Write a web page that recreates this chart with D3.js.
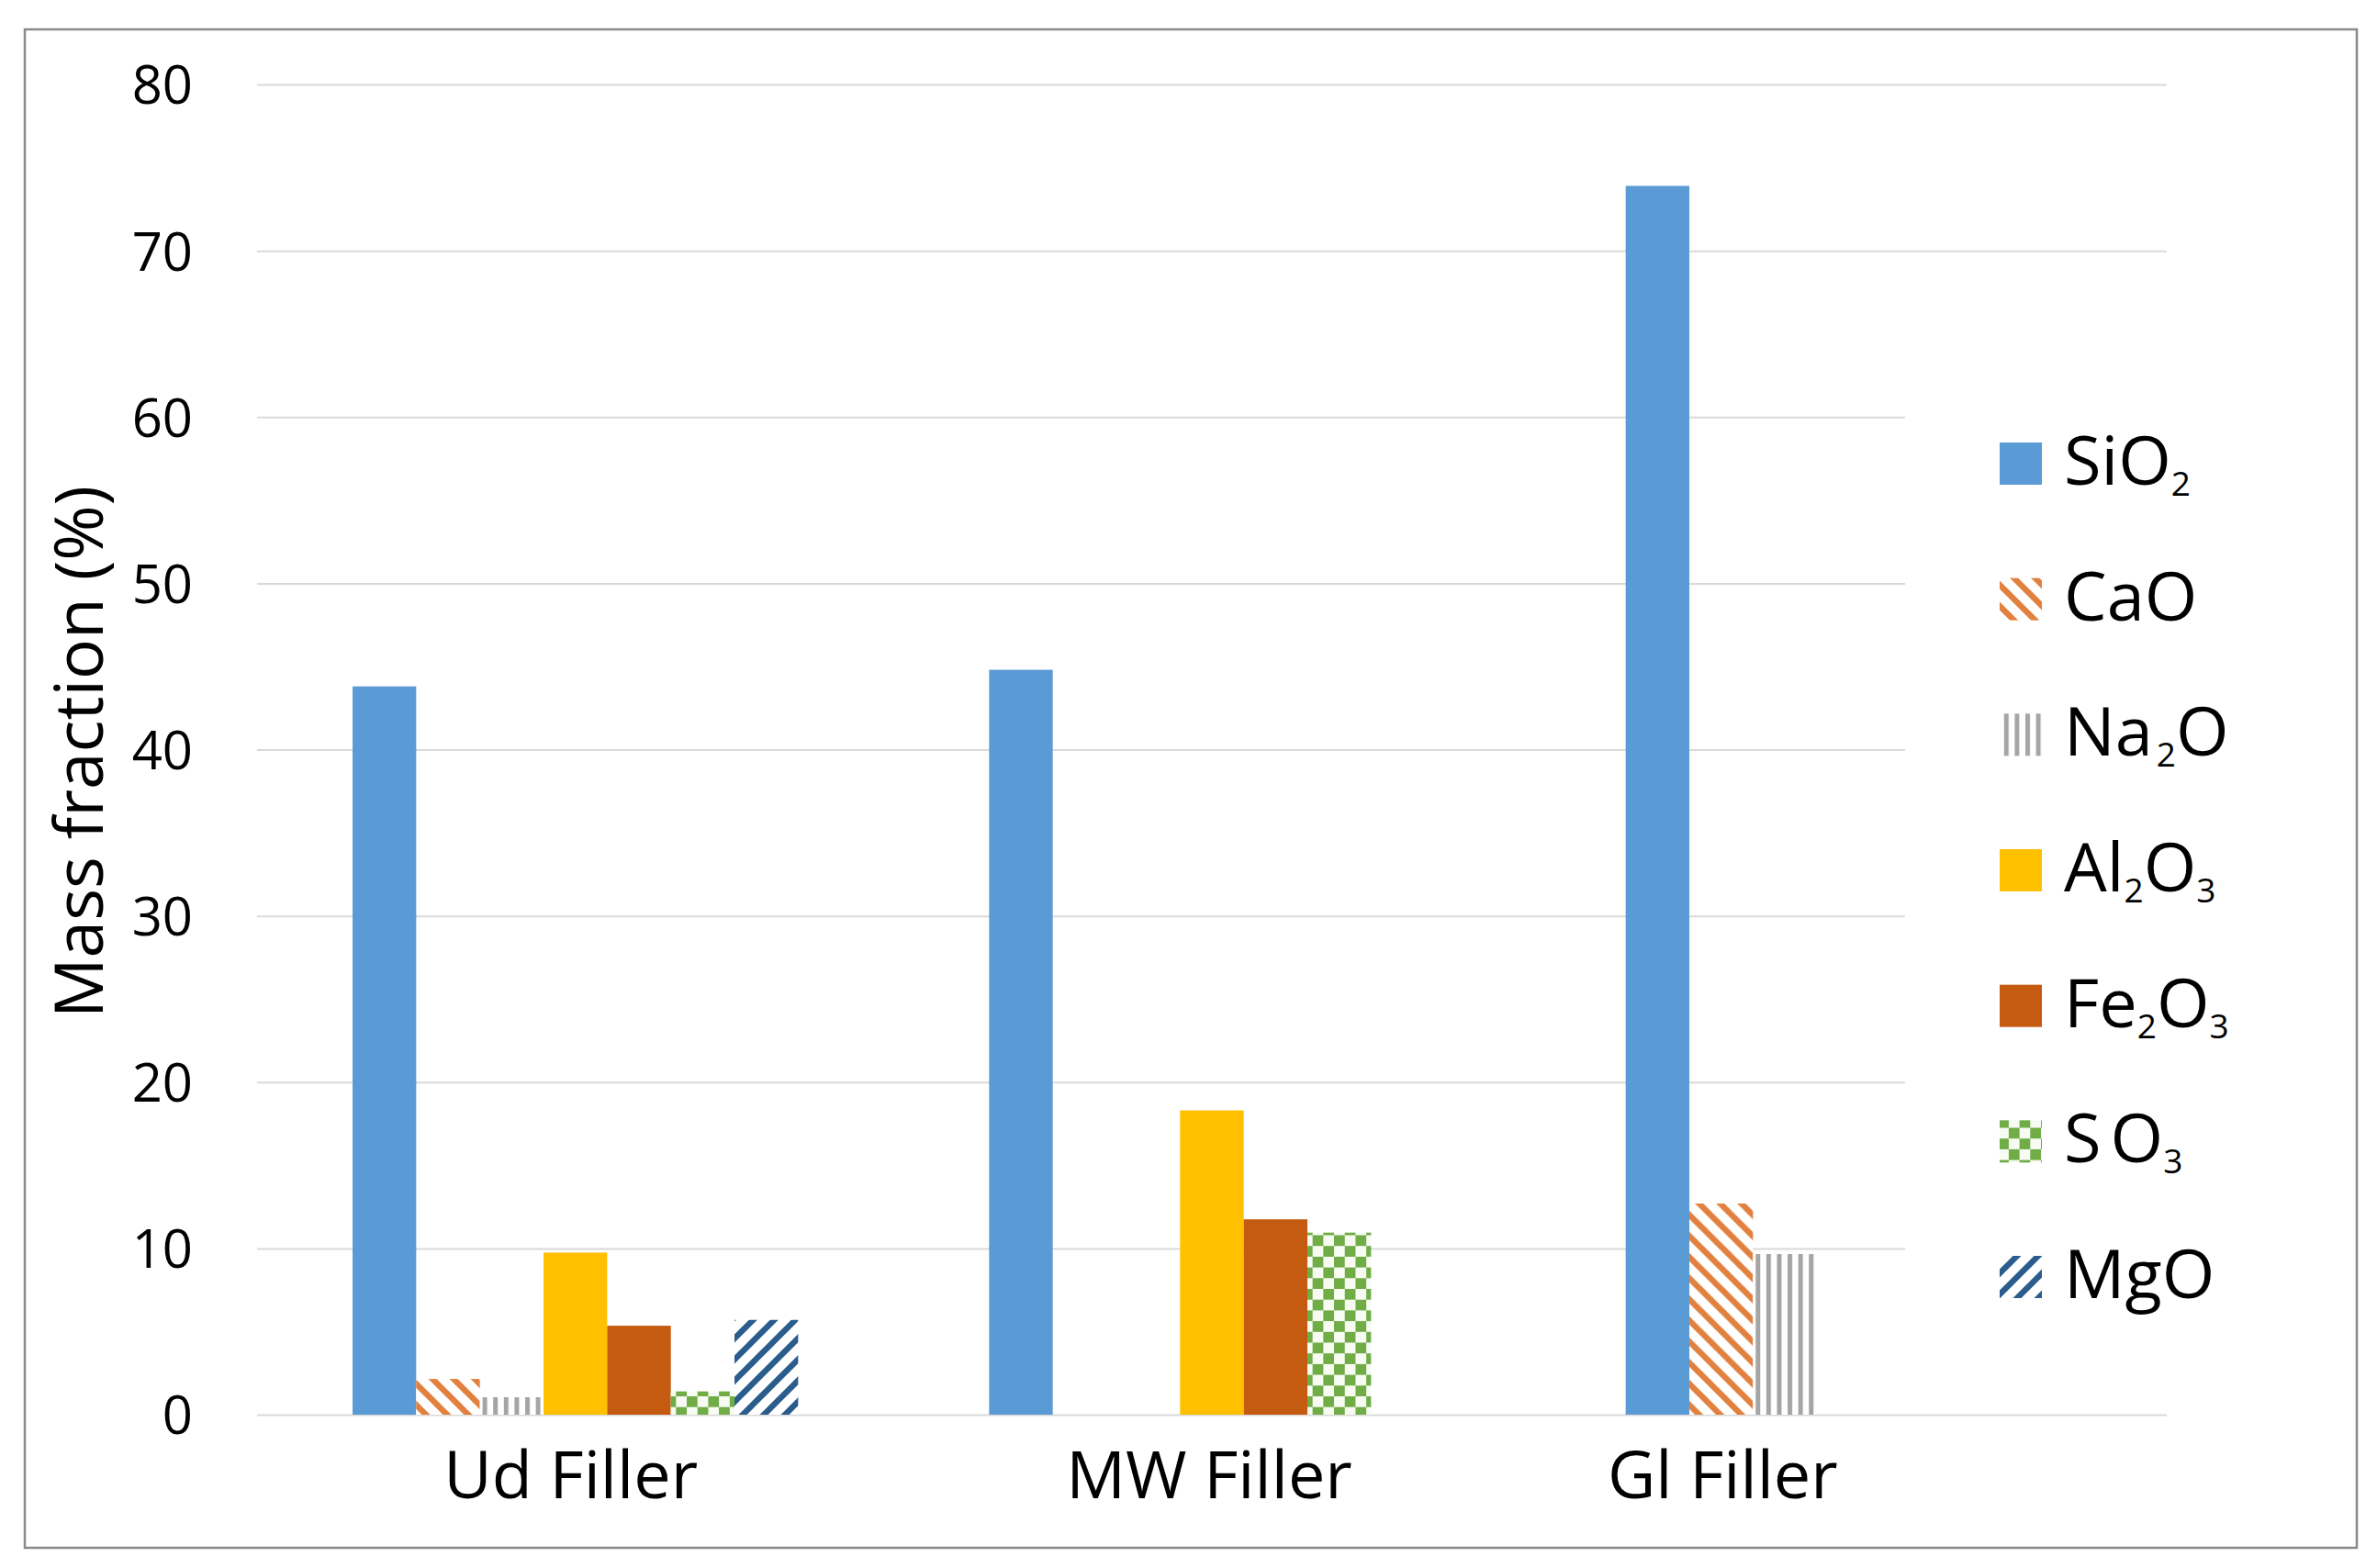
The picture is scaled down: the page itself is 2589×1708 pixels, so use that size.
<!DOCTYPE html>
<html>
<head>
<meta charset="utf-8">
<script src="https://cdn.jsdelivr.net/npm/d3@7"></script>
<style>
  html, body { margin: 0; padding: 0; background: #fff; }
  svg { display: block; }
  text { font-family: "Open Sans", "Noto Sans", sans-serif; fill: #000; }
</style>
</head>
<body>
<svg id="chart" width="2589" height="1708"></svg>
<script>
// ---- data ----
const categories = ["Ud Filler", "MW Filler", "Gl Filler"];
const series = ["SiO2", "CaO", "Na2O", "Al2O3", "Fe2O3", "SO3", "MgO"];
const SiO2  = [43.8, 44.8, 73.9];
const CaO   = [2.15, 0, 12.7];
const Na2O  = [1.05, 0, 9.66];
const Al2O3 = [9.75, 18.3, 0];
const Fe2O3 = [5.35, 11.75, 0];
const SO3   = [1.4, 10.95, 0];
const MgO   = [5.7, 0, 0];
const yTicks = [0, 10, 20, 30, 40, 50, 60, 70, 80];
const yTitle = "Mass fraction (%)";

const values = { SiO2, CaO, Na2O, Al2O3, Fe2O3, SO3, MgO };

// ---- layout ----
const svg = d3.select("#chart");
const W = 2589, H = 1708;
const plot = { left: 280, right: 2360, top: 92, bottom: 1541 };

svg.append("rect").attr("x", 0).attr("y", 0).attr("width", W).attr("height", H).attr("fill", "#fff");

// patterns
const defs = svg.append("defs");
const P = 23;
const pCa = defs.append("pattern").attr("id", "pCaO").attr("patternUnits", "userSpaceOnUse")
  .attr("width", P).attr("height", P);
pCa.append("rect").attr("width", P).attr("height", P).attr("fill", "#fff");
pCa.append("path")
  .attr("d", `M0,0 L${P},${P} M${-P/2},${P/2} L${P/2},${3*P/2} M${P/2},${-P/2} L${3*P/2},${P/2}`)
  .attr("stroke", "#E2803F").attr("stroke-width", 6.5).attr("fill", "none");
const pMg = defs.append("pattern").attr("id", "pMgO").attr("patternUnits", "userSpaceOnUse")
  .attr("width", P).attr("height", P);
pMg.append("rect").attr("width", P).attr("height", P).attr("fill", "#fff");
pMg.append("path")
  .attr("d", `M0,${P} L${P},0 M${-P/2},${P/2} L${P/2},${-P/2} M${P/2},${3*P/2} L${3*P/2},${P/2}`)
  .attr("stroke", "#2A5C8C").attr("stroke-width", 6.5).attr("fill", "none");
const PV = 11.6;
const pNa = defs.append("pattern").attr("id", "pNa2O").attr("patternUnits", "userSpaceOnUse")
  .attr("width", PV).attr("height", PV).attr("x", 2);
pNa.append("rect").attr("width", PV).attr("height", PV).attr("fill", "#fff");
pNa.append("rect").attr("x", 0).attr("width", 5).attr("height", PV).attr("fill", "#A5A5A5");
const PC = 23.4;
const pS = defs.append("pattern").attr("id", "pSO3").attr("patternUnits", "userSpaceOnUse")
  .attr("width", PC).attr("height", PC);
pS.append("rect").attr("width", PC).attr("height", PC).attr("fill", "#F7FBF2");
pS.append("rect").attr("x", 0).attr("y", 0).attr("width", PC/2).attr("height", PC/2).attr("fill", "#70AD47");
pS.append("rect").attr("x", PC/2).attr("y", PC/2).attr("width", PC/2).attr("height", PC/2).attr("fill", "#70AD47");

const fills = {
  SiO2: "#5B9BD5",
  CaO: "url(#pCaO)",
  Na2O: "url(#pNa2O)",
  Al2O3: "#FFC000",
  Fe2O3: "#C55A11",
  SO3: "url(#pSO3)",
  MgO: "url(#pMgO)"
};

// scales
const y = d3.scaleLinear().domain([0, 80]).range([plot.bottom, plot.top]);
const x0 = d3.scaleBand().domain(categories).range([plot.left, plot.right]).paddingInner(0).paddingOuter(0);
const x1 = d3.scaleBand().domain(series).range([0, x0.bandwidth()]).paddingInner(0).paddingOuter(1.5);

// gridlines
const grid = svg.append("g").attr("transform", `translate(${plot.left},0)`)
  .call(d3.axisLeft(y).tickValues(yTicks).tickSize(-(plot.right - plot.left)).tickFormat(""));
grid.select(".domain").remove();
grid.selectAll(".tick line").attr("stroke", "#D9D9D9").attr("stroke-width", 2);

// y tick labels
const yAx = svg.append("g").attr("transform", `translate(210,0)`)
  .call(d3.axisLeft(y).tickValues(yTicks).tickSize(0).tickPadding(0));
yAx.select(".domain").remove();
yAx.selectAll(".tick text").attr("font-size", 58).attr("font-family", '"Open Sans", sans-serif')
  .attr("fill", "#000").attr("text-anchor", "end").attr("dy", "0.36em");

// bars
const gBars = svg.append("g");
categories.forEach((cat, ci) => {
  const g = gBars.append("g").attr("transform", `translate(${x0(cat)},0)`);
  g.selectAll("rect")
    .data(series.map(s => ({ s, v: values[s][ci] })).filter(d => d.v > 0))
    .join("rect")
    .attr("x", d => x1(d.s))
    .attr("y", d => y(d.v))
    .attr("width", x1.bandwidth())
    .attr("height", d => y(0) - y(d.v))
    .attr("fill", d => fills[d.s]);
});

// category labels
const labelShift = { "Ud Filler": -5, "MW Filler": -3, "Gl Filler": -137 };
const xAx = svg.append("g").attr("transform", `translate(0,${plot.bottom})`)
  .call(d3.axisBottom(x0).tickSize(0).tickPadding(0));
xAx.select(".domain").remove();
xAx.selectAll(".tick text").attr("font-size", 72).attr("font-family", '"Open Sans", sans-serif')
  .attr("fill", "#000").attr("dy", 0).attr("y", 91)
  .attr("dx", d => labelShift[d]);

// y title
svg.append("text")
  .attr("transform", `translate(112,819) rotate(-90)`)
  .attr("text-anchor", "middle")
  .attr("font-size", 73)
  .text(yTitle);

// legend background (covers gridlines)
svg.append("rect").attr("x", 2075).attr("y", 400).attr("width", 420).attr("height", 1070).attr("fill", "#fff");

const leg = svg.append("g");
const legY = d3.scalePoint().domain(series).range([505, 1391]);
series.forEach(s => {
  const cy = legY(s);
  leg.append("rect").attr("x", 2178).attr("y", cy - 23).attr("width", 46).attr("height", 46).attr("fill", fills[s]);
  const t = leg.append("text").attr("x", 2248).attr("y", cy + 23).attr("font-size", 74);
  let prevSub = false;
  for (let i = 0; i < s.length; i++) {
    const ch = s[i];
    const isSub = /[0-9]/.test(ch);
    const sp = t.append("tspan").text(ch);
    if (isSub) {
      sp.attr("font-size", 37).attr("dy", prevSub ? 0 : 12);
    } else if (prevSub) {
      sp.attr("dy", -12);
    }
    if (s === "SO3" && i === 1) sp.attr("dx", 10);
    if (s === "Na2O" && i === 2) sp.attr("dx", 4);
    prevSub = isSub;
  }
});

// outer border
svg.append("rect").attr("x", 27).attr("y", 32).attr("width", 2540).attr("height", 1654)
  .attr("fill", "none").attr("stroke", "#8A8A8A").attr("stroke-width", 2.5);
</script>
</body>
</html>
